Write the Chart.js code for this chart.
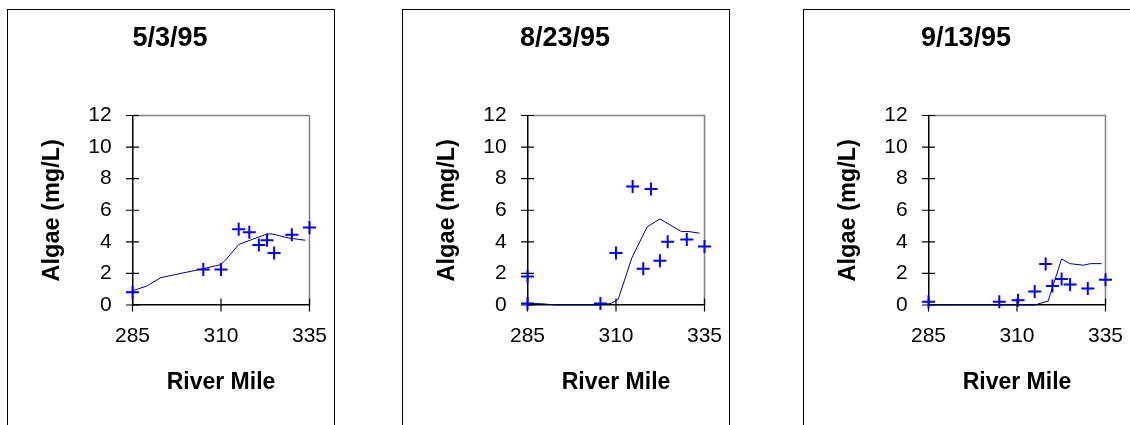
<!DOCTYPE html>
<html>
<head>
<meta charset="utf-8">
<script src="https://cdn.jsdelivr.net/npm/chart.js@4"></script>
<style>
  body { margin: 0; background: #fff; width: 1130px; height: 425px; overflow: hidden; position: relative; }
  .panel { position: absolute; top: 9px; width: 326px; height: 430px; border: 1px solid #000; }
  .panel canvas { position: absolute; left: 0; top: 0; }
</style>
</head>
<body>
<div class="panel" style="left:7px"><canvas id="c1" width="326" height="416"></canvas></div>
<div class="panel" style="left:402px"><canvas id="c2" width="326" height="416"></canvas></div>
<div class="panel" style="left:803px"><canvas id="c3" width="326" height="416"></canvas></div>
<script>
// tick labels and titles
const riverMileTicks = [285, 310, 335];
const algaeTicks = [0, 2, 4, 6, 8, 10, 12];
const panelTitles = ['5/3/95', '8/23/95', '9/13/95'];

// 5/3/95 - measured (crosses) and model (line)
const obsMile1  = [285, 305, 310, 315, 318, 320.7, 323, 325, 330, 335];
const obsAlgae1 = [0.8, 2.25, 2.25, 4.8, 4.6, 3.8, 4.1, 3.3, 4.45, 4.9];
const modelMile1  = [285, 289, 293, 305, 309.8, 311.2, 315, 318.8, 323, 324.4, 329, 333.8];
const modelAlgae1 = [0.9, 1.2, 1.73, 2.3, 2.55, 2.82, 3.83, 4.15, 4.5, 4.5, 4.25, 4.1];

// 8/23/95
const obsMile2  = [285, 285, 305.6, 310, 314.7, 319.9, 317.7, 322.4, 324.6, 330, 335];
const obsAlgae2 = [0.1, 1.8, 0.1, 3.3, 7.5, 7.35, 2.3, 2.8, 4.0, 4.15, 3.7];
const modelMile2  = [285, 289, 293, 305, 308.6, 310.6, 314.5, 318.8, 322.4, 328.5, 330.6, 333.6];
const modelAlgae2 = [0.1, 0.08, 0, 0, 0.1, 0.35, 3.0, 4.95, 5.45, 4.65, 4.65, 4.55];

// 9/13/95
const obsMile3  = [285, 305, 310.3, 315, 318.1, 320, 322.6, 325, 330, 335];
const obsAlgae3 = [0.2, 0.2, 0.3, 0.85, 2.6, 1.2, 1.65, 1.3, 1.05, 1.6];
const modelMile3  = [285, 315, 318.8, 322.6, 324.9, 328.7, 330.8, 333.9];
const modelAlgae3 = [0, 0, 0.25, 2.92, 2.62, 2.52, 2.62, 2.62];

const fontFamily = '"Liberation Sans", Arial, sans-serif';

function pairs(xs, ys) {
  return xs.map((v, i) => ({ x: v, y: ys[i] }));
}

// grey top/right frame and tick marks crossing the axes
const frameTicks = {
  id: 'frameTicks',
  beforeDatasetsDraw(chart) {
    const { ctx, chartArea: a, scales: { x, y } } = chart;
    ctx.save();
    ctx.strokeStyle = '#808080';
    ctx.lineWidth = 1.5;
    ctx.beginPath();
    ctx.moveTo(a.left, a.top);
    ctx.lineTo(a.right, a.top);
    ctx.lineTo(a.right, a.bottom);
    ctx.stroke();
    ctx.strokeStyle = '#000';
    ctx.lineWidth = 1.2;
    ctx.beginPath();
    y.ticks.forEach(t => {
      const py = y.getPixelForValue(t.value);
      ctx.moveTo(a.left - 6.5, py);
      ctx.lineTo(a.left + 6.5, py);
    });
    x.ticks.forEach(t => {
      const px = x.getPixelForValue(t.value);
      ctx.moveTo(px, a.bottom - 6.5);
      ctx.lineTo(px, a.bottom + 6.5);
    });
    ctx.stroke();
    ctx.restore();
  }
};

function makeChart(id, title, obsX, obsY, modX, modY) {
  new Chart(document.getElementById(id), {
    type: 'scatter',
    data: {
      datasets: [
        {
          data: pairs(modX, modY),
          showLine: true,
          borderColor: '#000080',
          borderWidth: 1,
          pointRadius: 0,
          fill: false,
          clip: false
        },
        {
          data: pairs(obsX, obsY),
          showLine: false,
          pointStyle: 'cross',
          pointRadius: 6.5,
          pointBorderWidth: 2,
          borderColor: '#0000FF',
          backgroundColor: '#0000FF',
          clip: false
        }
      ]
    },
    options: {
      responsive: false,
      devicePixelRatio: 1,
      animation: false,
      events: [],
      layout: { padding: { left: 0, right: 2, top: 0, bottom: 0 } },
      plugins: {
        legend: { display: false },
        tooltip: { enabled: false },
        title: {
          display: true,
          text: title,
          color: '#000',
          font: { family: fontFamily, size: 27, weight: 'bold', lineHeight: 1.2 },
          padding: { top: 12.3, bottom: 60.8 }
        }
      },
      scales: {
        x: {
          type: 'linear',
          min: 285,
          max: 335,
          afterBuildTicks: s => { s.ticks = riverMileTicks.map(v => ({ value: v })); },
          afterFit: s => { s.height = 121; s.paddingLeft = 0; s.paddingRight = 24.5; },
          grid: { display: false, drawTicks: false },
          border: { display: true, color: '#000', width: 1.5 },
          ticks: {
            color: '#000',
            padding: 19,
            maxRotation: 0,
            autoSkip: false,
            font: { family: fontFamily, size: 21, lineHeight: 1.2 }
          },
          title: {
            display: true,
            text: 'River Mile',
            color: '#000',
            font: { family: fontFamily, size: 23, weight: 'bold', lineHeight: 1.2 },
            padding: { top: 0, bottom: 29.5 }
          }
        },
        y: {
          type: 'linear',
          min: 0,
          max: 12,
          afterBuildTicks: s => { s.ticks = algaeTicks.map(v => ({ value: v })); },
          afterFit: s => { s.width = 124.5; },
          grid: { display: false, drawTicks: false },
          border: { display: true, color: '#000', width: 1.5 },
          ticks: {
            color: '#000',
            padding: 20.8,
            autoSkip: false,
            font: { family: fontFamily, size: 21, lineHeight: 1.2 }
          },
          title: {
            display: true,
            text: 'Algae (mg/L)',
            color: '#000',
            font: { family: fontFamily, size: 23.5, weight: 'bold', lineHeight: 1.2 },
            padding: { top: 30.2, bottom: 0 }
          }
        }
      }
    },
    plugins: [frameTicks]
  });
}

makeChart('c1', panelTitles[0], obsMile1, obsAlgae1, modelMile1, modelAlgae1);
makeChart('c2', panelTitles[1], obsMile2, obsAlgae2, modelMile2, modelAlgae2);
makeChart('c3', panelTitles[2], obsMile3, obsAlgae3, modelMile3, modelAlgae3);
</script>
</body>
</html>
